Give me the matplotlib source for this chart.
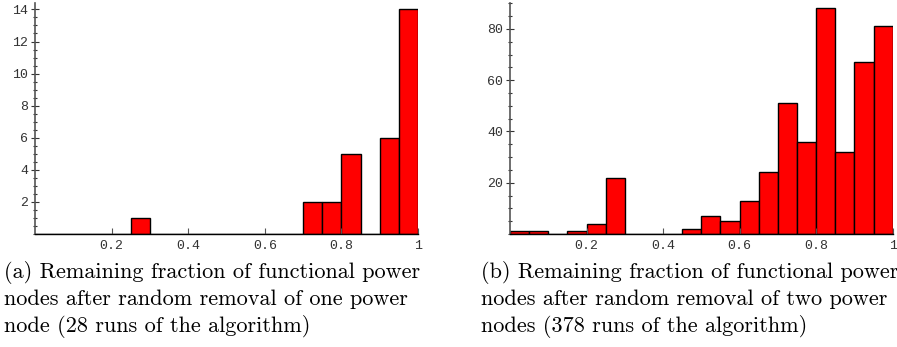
import numpy as np
import matplotlib.pyplot as plt
from matplotlib.ticker import MultipleLocator, FixedLocator

# bin left edges (width 0.05) and counts
bin_width = 0.05
bin_edges = np.arange(0, 1, 0.05)

counts_one = [0, 0, 0, 0, 0, 1, 0, 0, 0, 0, 0, 0, 0, 0, 2, 2, 5, 0, 6, 14]
counts_two = [1, 1, 0, 1, 4, 22, 0, 0, 0, 2, 7, 5, 13, 24, 51, 36, 88, 32, 67, 81]

x_ticks = [0.2, 0.4, 0.6, 0.8, 1.0]
x_tick_labels = ["0.2", "0.4", "0.6", "0.8", "1"]

caption_a = ("(a) Remaining fraction of functional power\n"
             "nodes after random removal of one power\n"
             "node (28 runs of the algorithm)")
caption_b = ("(b) Remaining fraction of functional power\n"
             "nodes after random removal of two power\n"
             "nodes (378 runs of the algorithm)")

TICK_FONT = "Liberation Mono"
AXIS_GRAY = "#555555"


def style_axis(ax, ymax, major, minor):
    ax.set_xlim(0, 1)
    ax.set_ylim(0, ymax)
    for side in ("top", "right"):
        ax.spines[side].set_visible(False)
    ax.spines["left"].set_color(AXIS_GRAY)
    ax.spines["left"].set_linewidth(1.2)
    ax.spines["bottom"].set_color("black")
    ax.spines["bottom"].set_linewidth(1.0)
    ax.xaxis.set_major_locator(FixedLocator(x_ticks))
    ax.set_xticklabels(x_tick_labels)
    ax.yaxis.set_major_locator(MultipleLocator(major))
    ax.yaxis.set_minor_locator(MultipleLocator(minor))
    ax.tick_params(axis="x", direction="in", length=4, width=0.8,
                   color=AXIS_GRAY, pad=4, labelsize=9.5, labelcolor="#333333")
    ax.tick_params(axis="y", which="major", direction="inout", length=6,
                   width=0.8, color="#333333", pad=2, labelsize=9.5,
                   labelcolor="#333333")
    ax.tick_params(axis="y", which="minor", direction="inout", length=3,
                   width=0.8, color="#333333")
    for lab in ax.get_xticklabels() + ax.get_yticklabels():
        lab.set_fontfamily(TICK_FONT)
    # no "0" label on y
    labels = [t for t in ax.get_yticks() if 0 < t <= ymax]
    ax.set_yticks(labels)
    ax.set_yticklabels([f"{int(t)}" for t in labels], fontfamily=TICK_FONT)


fig = plt.figure(figsize=(8.97, 3.47), dpi=100)

ax1 = fig.add_axes([0.039, 0.3256, 0.427, 0.6657])
ax1.bar(bin_edges, counts_one, width=bin_width, align="edge",
        color="#ff0000", edgecolor="black", linewidth=1.0)
style_axis(ax1, 14.4, 2, 0.5)

ax2 = fig.add_axes([0.5686, 0.3256, 0.4266, 0.6657])
ax2.bar(bin_edges, counts_two, width=bin_width, align="edge",
        color="#ff0000", edgecolor="black", linewidth=1.0)
style_axis(ax2, 90.1, 20, 5)

fig.text(0.005, 0.138, caption_a, family="cmr10", fontsize=16,
         va="center", ha="left", linespacing=1.36)
fig.text(0.536, 0.138, caption_b, family="cmr10", fontsize=16,
         va="center", ha="left", linespacing=1.36)

fig.savefig("out.png", dpi=100)
